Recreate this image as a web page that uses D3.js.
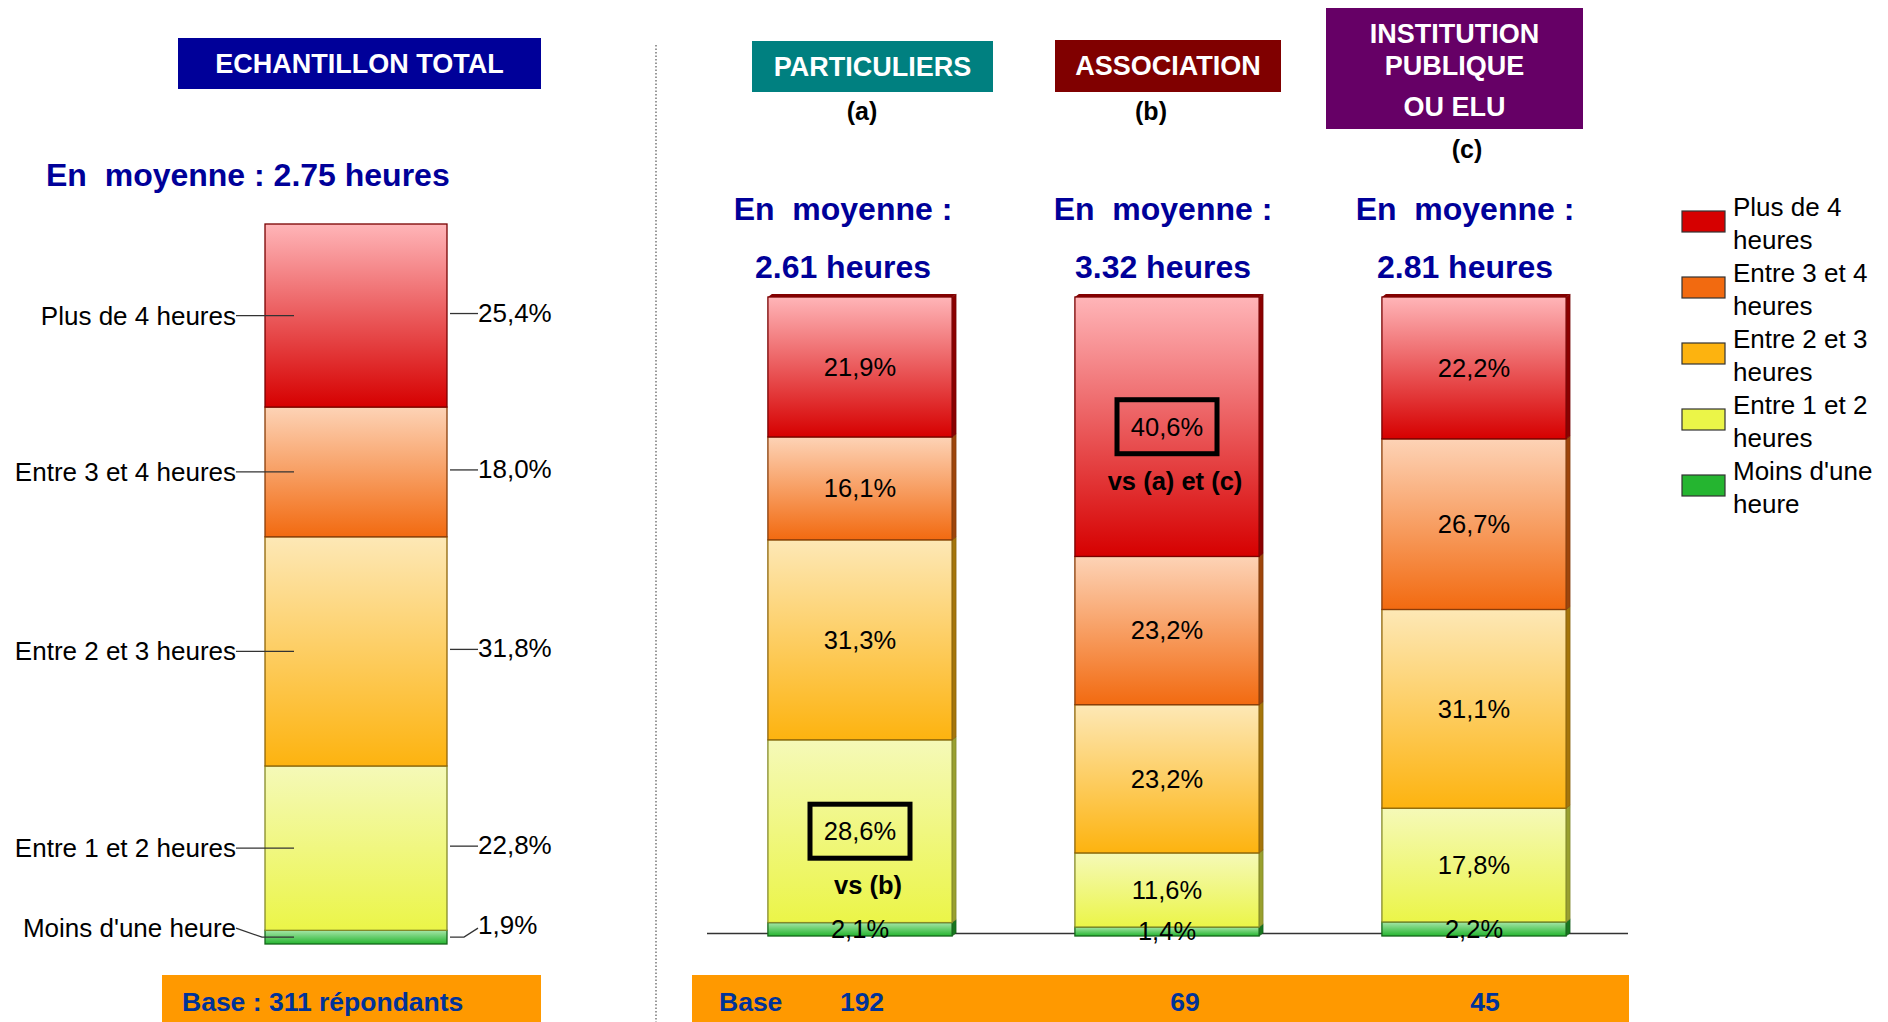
<!DOCTYPE html>
<html>
<head>
<meta charset="utf-8">
<script src="https://cdn.jsdelivr.net/npm/d3@7"></script>
<style>
  body { margin: 0; background: #fff; }
  svg { font-family: Arial, "Liberation Sans", sans-serif; }
</style>
</head>
<body>
<svg id="chart" width="1888" height="1022"></svg>
<script>
// categories, top of the stack first
var categories = ["Plus de 4 heures", "Entre 3 et 4 heures", "Entre 2 et 3 heures", "Entre 1 et 2 heures", "Moins d'une heure"];
var legendLines = [["Plus de 4", "heures"], ["Entre 3 et 4", "heures"], ["Entre 2 et 3", "heures"], ["Entre 1 et 2", "heures"], ["Moins d'une", "heure"]];

var totalValues = [25.4, 18.0, 31.8, 22.8, 1.9];
var totalMean = "2.75";
var totalBase = 311;

var groups = ["a", "b", "c"];
var groupTitles = [["PARTICULIERS"], ["ASSOCIATION"], ["INSTITUTION", "PUBLIQUE", "OU ELU"]];
var groupMeans = ["2.61", "3.32", "2.81"];
var groupBases = [192, 69, 45];
var particuliers = [21.9, 16.1, 31.3, 28.6, 2.1];
var association = [40.6, 23.2, 23.2, 11.6, 1.4];
var institution = [22.2, 26.7, 31.1, 17.8, 2.2];

// significant differences (group, category index, note)
var markGroups = ["a", "b"];
var markCats = [3, 0];
var markNotes = ["vs (b)", "vs (a) et (c)"];

var baseColors = ["#d60000", "#f26a10", "#fdb30f", "#ebf548", "#25b530"];
var lightColors = ["#ffb5b8", "#fdd3b6", "#fde8b6", "#f5f9b8", "#a6e6a8"];

var svg = d3.select("#chart");
var defs = svg.append("defs");

categories.forEach(function(c, i) {
  var g = defs.append("linearGradient")
      .attr("id", "grad" + i)
      .attr("x1", 0).attr("y1", 0).attr("x2", 0).attr("y2", 1);
  g.append("stop").attr("offset", "0%").attr("stop-color", lightColors[i]);
  g.append("stop").attr("offset", "100%").attr("stop-color", baseColors[i]);
});

var keys = d3.range(categories.length).reverse(); // bottom first
var pct = function(v) { return d3.format(".1f")(v).replace(".", ",") + "%"; };

function boxTitle(x, y, w, h, fill, lines, lineYs) {
  svg.append("rect").attr("x", x).attr("y", y).attr("width", w).attr("height", h).attr("fill", fill);
  lines.forEach(function(t, i) {
    svg.append("text").attr("x", x + w / 2).attr("y", lineYs[i]).attr("dy", "0.35em")
      .attr("text-anchor", "middle").attr("fill", "#fff")
      .style("font-size", "27px").style("font-weight", "bold").text(t);
  });
}

// ---------- left panel : total ----------
boxTitle(178, 38, 363, 51, "#000099", ["ECHANTILLON TOTAL"], [64]);

svg.append("text").attr("x", 46).attr("y", 175).attr("dy", "0.35em")
  .attr("fill", "#000099").style("font-size", "32px").style("font-weight", "bold")
  .attr("xml:space", "preserve")
  .text("En  moyenne : " + totalMean + " heures");

var xLeft = d3.scaleBand().domain(["total"]).range([265, 447]);
var yLeft = d3.scaleLinear().domain([0, d3.sum(totalValues)]).range([944, 224]);

var leftStack = d3.stack().keys(keys).value(function(d, k) { return d.vals[k]; })([{ vals: totalValues }]);

svg.append("g").selectAll("rect")
  .data(leftStack)
  .enter().append("rect")
    .attr("x", xLeft("total"))
    .attr("width", xLeft.bandwidth())
    .attr("y", function(s) { return yLeft(s[0][1]); })
    .attr("height", function(s) { return yLeft(s[0][0]) - yLeft(s[0][1]); })
    .attr("fill", function(s) { return "url(#grad" + s.key + ")"; })
    .attr("stroke", function(s) { return d3.color(baseColors[s.key]).darker(1.6); })
    .attr("stroke-width", 1.3);

var leftLab = svg.append("g");
leftStack.forEach(function(s) {
  var mid = yLeft((s[0][0] + s[0][1]) / 2);
  var small = s.key === categories.length - 1;
  var ty = small ? mid - 9 : mid;
  leftLab.append("path")
    .attr("d", small ? "M236," + ty + "L262," + mid + "L294," + mid : "M236," + mid + "L294," + mid)
    .attr("stroke", "#333").attr("fill", "none").attr("stroke-width", 1.3);
  leftLab.append("text").attr("x", 236).attr("y", ty).attr("dy", "0.35em")
    .attr("text-anchor", "end").style("font-size", "26px").text(categories[s.key]);
  leftLab.append("path")
    .attr("d", small ? "M450," + mid + "L464," + mid + "L478," + ty : "M450," + (mid - 2) + "L478," + (mid - 2))
    .attr("stroke", "#333").attr("fill", "none").attr("stroke-width", 1.3);
  leftLab.append("text").attr("x", 478).attr("y", ty - 3).attr("dy", "0.35em")
    .style("font-size", "26px").text(pct(totalValues[s.key]));
});

svg.append("rect").attr("x", 162).attr("y", 975).attr("width", 379).attr("height", 60).attr("fill", "#ff9900");
svg.append("text").attr("x", 182).attr("y", 1002).attr("dy", "0.35em")
  .attr("fill", "#003399").style("font-size", "26.5px").style("font-weight", "bold")
  .text("Base : " + totalBase + " répondants");

// separator
svg.append("line").attr("x1", 656).attr("x2", 656).attr("y1", 45).attr("y2", 1022)
  .attr("stroke", "#555").attr("stroke-width", 1.2).attr("stroke-dasharray", "1.5,2");

// ---------- right panel : groups ----------
var headerBoxes = [
  { x: 752, y: 41, w: 241, h: 51, fill: "#008080", ys: [67], tag: 862, tagY: 111 },
  { x: 1055, y: 40, w: 226, h: 52, fill: "#800000", ys: [66], tag: 1151, tagY: 111 },
  { x: 1326, y: 8, w: 257, h: 121, fill: "#660066", ys: [34, 66, 107], tag: 1467, tagY: 149 }
];
headerBoxes.forEach(function(b, i) {
  boxTitle(b.x, b.y, b.w, b.h, b.fill, groupTitles[i], b.ys);
  svg.append("text").attr("x", b.tag).attr("y", b.tagY).attr("dy", "0.35em")
    .attr("text-anchor", "middle").style("font-size", "25px").style("font-weight", "bold")
    .text("(" + groups[i] + ")");
});

var xRight = d3.scaleBand().domain(groups).range([706.5, 1627.5]).paddingInner(0.4).paddingOuter(0.2);
var yRight = d3.scaleLinear().domain([0, 100]).range([936, 297]);

var meanX = [843, 1163, 1465];
groups.forEach(function(g, i) {
  svg.append("text").attr("x", meanX[i]).attr("y", 209).attr("dy", "0.35em")
    .attr("text-anchor", "middle").attr("fill", "#000099")
    .style("font-size", "32px").style("font-weight", "bold")
    .attr("xml:space", "preserve").text("En  moyenne :");
  svg.append("text").attr("x", meanX[i]).attr("y", 267).attr("dy", "0.35em")
    .attr("text-anchor", "middle").attr("fill", "#000099")
    .style("font-size", "32px").style("font-weight", "bold")
    .text(groupMeans[i] + " heures");
});

// floor line
svg.append("g")
  .attr("transform", "translate(0," + (yRight(0) - 3) + ")")
  .call(d3.axisBottom(xRight).tickSize(0).tickFormat(""))
  .call(function(g) { g.select(".domain").attr("stroke", "#333").attr("stroke-width", 1.5); });

var rows = groups.map(function(g, i) {
  return { group: g, vals: [particuliers, association, institution][i] };
});
var stacked = d3.stack().keys(keys).value(function(d, k) { return d.vals[k]; })(rows);

var dx = 4, dy = 3;
var layer = svg.append("g").selectAll("g")
  .data(stacked)
  .enter().append("g");

// side face
layer.selectAll("path.side")
  .data(function(s) { return s.map(function(d) { return { k: s.key, d: d }; }); })
  .enter().append("path")
    .attr("class", "side")
    .attr("d", function(o) {
      var x1 = xRight(o.d.data.group) + xRight.bandwidth();
      var yt = yRight(o.d[1]), yb = yRight(o.d[0]);
      return "M" + x1 + "," + yt + "L" + (x1 + dx) + "," + (yt - dy) + "L" + (x1 + dx) + "," + (yb - dy) + "L" + x1 + "," + yb + "Z";
    })
    .attr("fill", function(o) { return d3.color(baseColors[o.k]).darker(1.2); })
    .attr("stroke", function(o) { return d3.color(baseColors[o.k]).darker(2); })
    .attr("stroke-width", 0.6);

// front face
layer.selectAll("rect")
  .data(function(s) { return s.map(function(d) { return { k: s.key, d: d }; }); })
  .enter().append("rect")
    .attr("x", function(o) { return xRight(o.d.data.group); })
    .attr("width", xRight.bandwidth())
    .attr("y", function(o) { return yRight(o.d[1]); })
    .attr("height", function(o) { return yRight(o.d[0]) - yRight(o.d[1]); })
    .attr("fill", function(o) { return "url(#grad" + o.k + ")"; })
    .attr("stroke", function(o) { return d3.color(baseColors[o.k]).darker(1.6); })
    .attr("stroke-width", 1.3);

// top face
svg.append("g").selectAll("path")
  .data(stacked[stacked.length - 1])
  .enter().append("path")
    .attr("d", function(d) {
      var x0 = xRight(d.data.group), x1 = x0 + xRight.bandwidth(), yt = yRight(d[1]);
      return "M" + x0 + "," + yt + "L" + (x0 + dx) + "," + (yt - dy) + "L" + (x1 + dx) + "," + (yt - dy) + "L" + x1 + "," + yt + "Z";
    })
    .attr("fill", d3.color(baseColors[0]).darker(1.4));

// value labels
var labels = svg.append("g");
stacked.forEach(function(s) {
  s.forEach(function(d) {
    var cx = xRight(d.data.group) + xRight.bandwidth() / 2;
    var cy = yRight((d[0] + d[1]) / 2);
    labels.append("text").attr("x", cx).attr("y", cy).attr("dy", "0.35em")
      .attr("text-anchor", "middle").style("font-size", "25.5px")
      .text(pct(d.data.vals[s.key]));
    var m = markGroups.indexOf(d.data.group);
    if (m >= 0 && markCats[m] === s.key) {
      labels.append("rect").attr("x", cx - 50).attr("y", cy - 27).attr("width", 100).attr("height", 54)
        .attr("fill", "none").attr("stroke", "#000").attr("stroke-width", 5);
      labels.append("text").attr("x", cx + 8).attr("y", cy + 54).attr("dy", "0.35em")
        .attr("text-anchor", "middle").style("font-size", "25.5px").style("font-weight", "bold")
        .text(markNotes[m]);
    }
  });
});

// base band
svg.append("rect").attr("x", 692).attr("y", 975).attr("width", 937).attr("height", 60).attr("fill", "#ff9900");
svg.append("text").attr("x", 719).attr("y", 1002).attr("dy", "0.35em")
  .attr("fill", "#003399").style("font-size", "26.5px").style("font-weight", "bold").text("Base");
var baseX = [862, 1185, 1485];
groups.forEach(function(g, i) {
  svg.append("text").attr("x", baseX[i]).attr("y", 1002).attr("dy", "0.35em")
    .attr("text-anchor", "middle").attr("fill", "#003399")
    .style("font-size", "26.5px").style("font-weight", "bold").text(groupBases[i]);
});

// legend
var legend = svg.append("g").selectAll("g")
  .data(categories)
  .enter().append("g")
    .attr("transform", function(d, i) { return "translate(1682," + (211 + i * 66) + ")"; });
legend.append("rect").attr("width", 43).attr("height", 21)
  .attr("fill", function(d, i) { return baseColors[i]; })
  .attr("stroke", "#333").attr("stroke-width", 1.2);
legend.each(function(d, i) {
  var g = d3.select(this);
  legendLines[i].forEach(function(t, j) {
    g.append("text").attr("x", 51).attr("y", -4 + j * 33).attr("dy", "0.35em")
      .style("font-size", "26px").text(t);
  });
});
</script>
</body>
</html>
